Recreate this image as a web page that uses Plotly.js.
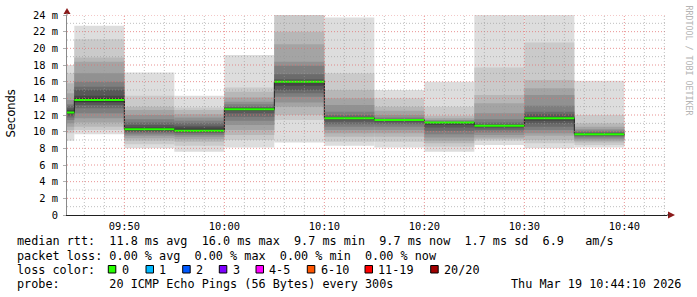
<!DOCTYPE html>
<html><head><meta charset="utf-8">
<script src="https://cdn.plot.ly/plotly-3.0.1.min.js"></script>
<style>html,body{margin:0;padding:0;background:#fff}#chart{width:697px;height:297px}</style>
</head><body><div id="chart"></div>
<script>
// ---- data (5-minute SmokePing intervals, values in ms) ----
const intervalEnd = ['2026-03-19 09:45:00','2026-03-19 09:50:00','2026-03-19 09:55:00','2026-03-19 10:00:00',
  '2026-03-19 10:05:00','2026-03-19 10:10:00','2026-03-19 10:15:00','2026-03-19 10:20:00',
  '2026-03-19 10:25:00','2026-03-19 10:30:00','2026-03-19 10:35:00','2026-03-19 10:40:00'];
// sorted ping ranks (1 = fastest, 20 = slowest) per interval
const ping01 = [8.9, 9.7, 8.0, 7.6, 8.1, 8.7, 8.3, 8.1, 7.6, 8.4, 8.0, 8.1];
const ping02 = [9.8, 10.2, 8.5, 8.3, 9.0, 11.4, 8.8, 8.8, 8.2, 8.9, 8.6, 8.4];
const ping03 = [10.2, 10.6, 8.9, 8.8, 9.6, 12.0, 9.4, 9.4, 8.6, 9.1, 9.0, 8.7];
const ping04 = [10.6, 11.1, 9.2, 9.1, 10.2, 13.0, 9.8, 9.8, 8.9, 9.3, 9.5, 8.9];
const ping05 = [11.0, 11.6, 9.5, 9.4, 10.8, 13.5, 10.2, 10.2, 9.3, 9.6, 9.8, 9.1];
const ping06 = [11.4, 12.2, 9.7, 9.6, 11.3, 14.2, 10.6, 10.6, 9.7, 9.9, 10.2, 9.3];
const ping07 = [11.7, 12.8, 9.9, 9.8, 11.8, 14.6, 10.9, 10.9, 10.1, 10.2, 10.6, 9.45];
const ping08 = [11.9, 13.2, 10.0, 9.9, 12.2, 15.0, 11.2, 11.1, 10.5, 10.4, 11.0, 9.55];
const ping09 = [12.1, 13.5, 10.1, 10.0, 12.5, 15.5, 11.45, 11.25, 10.8, 10.6, 11.3, 9.62];
const ping10 = [12.2, 13.6, 10.2, 10.05, 12.6, 15.95, 11.55, 11.35, 11.0, 10.65, 11.5, 9.68];
const ping11 = [12.4, 14.0, 10.4, 10.25, 12.75, 16.05, 11.65, 11.42, 11.1, 10.75, 11.7, 9.72];
const ping12 = [12.6, 14.3, 10.5, 10.5, 12.8, 16.1, 11.7, 11.45, 11.12, 10.8, 11.8, 9.78];
const ping13 = [12.8, 15.0, 10.8, 10.7, 12.9, 16.3, 11.8, 11.5, 11.15, 10.9, 12.1, 9.85];
const ping14 = [13.1, 15.4, 11.1, 11.0, 13.0, 16.9, 12.0, 11.55, 11.2, 11.1, 12.4, 9.95];
const ping15 = [13.3, 16.0, 11.5, 11.3, 13.3, 17.9, 12.4, 11.7, 11.3, 11.5, 13.1, 10.1];
const ping16 = [13.8, 17.0, 12.0, 11.7, 13.6, 18.4, 13.2, 12.0, 11.4, 12.2, 14.4, 10.3];
const ping17 = [14.6, 18.4, 12.6, 12.1, 14.1, 20.5, 14.0, 12.5, 11.6, 13.4, 15.2, 10.6];
const ping18 = [15.8, 18.9, 13.0, 12.6, 14.8, 22.0, 15.0, 13.0, 11.9, 14.4, 16.2, 11.0];
const ping19 = [17.0, 21.1, 14.3, 12.9, 15.3, 24.5, 17.0, 14.0, 13.0, 17.7, 20.7, 12.0];
const ping20 = [18.0, 22.7, 17.1, 14.3, 19.2, 25.0, 23.7, 15.0, 16.0, 24.2, 24.2, 16.1];
const medianMs = [12.3, 13.8, 10.3, 10.1, 12.7, 16.0, 11.6, 11.4, 11.1, 10.7, 11.6, 9.7];

const yTickVals = [0,2,4,6,8,10,12,14,16,18,20,22,24];
const yTickText = ['0','2 m','4 m','6 m','8 m','10 m','12 m','14 m','16 m','18 m','20 m','22 m','24 m'];
const xTickTimes = ['2026-03-19 09:50:00','2026-03-19 10:00:00','2026-03-19 10:10:00','2026-03-19 10:20:00','2026-03-19 10:30:00','2026-03-19 10:40:00'];
const xTickText = ['09:50','10:00','10:10','10:20','10:30','10:40'];
const xRange = ['2026-03-19 09:44:16','2026-03-19 10:44:16'];

const statsText = 'median rtt:  11.8 ms avg  16.0 ms max  9.7 ms min  9.7 ms now  1.7 ms sd  6.9   am/s';
const lossText = 'packet loss: 0.00 % avg  0.00 % max  0.00 % min  0.00 % now';
const lossColorTitle = 'loss color:';
const lossColorLabels = ['0','1','2','3','4-5','6-10','11-19','20/20'];
const lossColors = ['#26ff00','#00b8ff','#0059ff','#7e00ff','#ff00ff','#ff5500','#ff0000','#a10000'];
const probeText = 'probe:       20 ICMP Echo Pings (56 Bytes) every 300s';
const dateStamp = 'Thu Mar 19 10:44:10 2026';

// ---- helpers ----
const toMs = s => Date.parse(s.replace(' ','T')+'Z');
const STEP = 300000;
const ends = intervalEnd.map(toMs);
const starts = ends.map(e => e - STEP);
const W = 697, H = 297, L = 67, T = 15, PW = 600, PH = 200;
const px = x => (x - L) / PW;
const py = y => (T + PH - y) / PH;
const mono = '"DejaVu Sans Mono", monospace';
const keepSpaces = s => s.replace(/ /g, '\u00a0');

const pings = [ping01,ping02,ping03,ping04,ping05,ping06,ping07,ping08,ping09,ping10,
               ping11,ping12,ping13,ping14,ping15,ping16,ping17,ping18,ping19,ping20];

// ---- smoke layers ----
const traces = [];
const half = 10;
for (let i = 1; i <= half; i++) {
  const g = Math.floor(190 / half * (half - i)) + 50;
  const lo = pings[i - 1], hi = pings[20 - i];
  traces.push({
    type: 'bar', x: ends, base: lo, y: hi.map((v, k) => v - lo[k]),
    offset: -STEP, width: STEP,
    marker: {color: `rgb(${g},${g},${g})`, line: {width: 0}},
    hoverinfo: 'skip'
  });
}
// median: dark step line, then green per-interval segments
const stepX = [], stepY = [], segX = [], segY = [];
ends.forEach((e, k) => {
  stepX.push(starts[k], e); stepY.push(medianMs[k], medianMs[k]);
  segX.push(starts[k], e, null); segY.push(medianMs[k], medianMs[k], null);
});
traces.push({type:'scatter', mode:'lines', x: stepX, y: stepY, line:{color:'#202020', width:1}, hoverinfo:'skip'});
traces.push({type:'scatter', mode:'lines', x: segX, y: segY, line:{color: lossColors[0], width:2}, hoverinfo:'skip'});

// ---- grid (drawn above the smoke, like rrdtool) ----
const shapes = [];
const majorC = 'rgba(225,110,110,0.75)', minorC = 'rgba(150,150,150,0.6)';
for (let v = 1; v <= 24; v++) {
  shapes.push({type:'line', layer:'above', xref:'paper', yref:'y', x0:0, x1:1, y0:v, y1:v,
    line:{color: v % 2 ? minorC : majorC, width:1, dash:'1px,2px'}});
}
const r0 = toMs(xRange[0]), r1 = toMs(xRange[1]);
for (let t = Math.ceil(r0 / 120000) * 120000; t <= r1; t += 120000) {
  const major = (t % 600000) === 0;
  shapes.push({type:'line', layer:'above', xref:'x', yref:'paper', x0:t, x1:t, y0:0, y1:1,
    line:{color: major ? majorC : minorC, width:1, dash:'1px,2px'}});
}
// axis arrows
const arrowC = '#8b1a1a';
shapes.push({type:'path', xref:'paper', yref:'paper', layer:'above', fillcolor:arrowC, line:{width:0},
  path:`M ${px(67)} ${py(8)} L ${px(70.5)} ${py(14)} L ${px(63.5)} ${py(14)} Z`});
shapes.push({type:'path', xref:'paper', yref:'paper', layer:'above', fillcolor:arrowC, line:{width:0},
  path:`M ${px(675)} ${py(215)} L ${px(668)} ${py(211.5)} L ${px(668)} ${py(218.5)} Z`});
shapes.push({type:'line', xref:'paper', yref:'paper', layer:'above', x0:px(667), x1:px(669), y0:py(215), y1:py(215), line:{color:'#202020', width:1}});
shapes.push({type:'line', xref:'paper', yref:'paper', layer:'above', x0:px(67), x1:px(67), y0:py(13), y1:py(15), line:{color:'#888', width:1}});

// ---- text below the chart ----
const annotations = [];
const addText = (text, x, y, opts = {}) => annotations.push(Object.assign({
  text: keepSpaces(text), xref:'paper', yref:'paper', x: px(x), y: py(y), xanchor:'left', yanchor:'middle',
  showarrow:false, font:{family: mono, size:11.8, color:'#000'}, borderpad:0
}, opts));
addText(statsText, 15.5, 241);
addText(lossText, 15.5, 255.5);
addText(lossColorTitle, 15.5, 269.5);
const boxX = [108.3, 146, 182.7, 219.3, 256, 307.3, 365, 430.7];
lossColorLabels.forEach((t, k) => {
  shapes.push({type:'rect', xref:'paper', yref:'paper', x0:px(boxX[k]), x1:px(boxX[k]+7.5), y0:py(265.5), y1:py(273),
    fillcolor: lossColors[k], line:{color:'#000', width:1}});
  addText(t, boxX[k] + 12.3, 269.5);
});
addText(probeText, 15.5, 283.5);
addText(dateStamp, 682, 283.5, {xanchor:'right'});
// axis unit title and watermark
addText('Seconds', 10.5, 114, {xanchor:'center', textangle:-90, font:{family:'"DejaVu Sans", sans-serif', size:11.5, color:'#000'}});
addText('RRDTOOL / TOBI OETIKER', 688.5, 60, {xanchor:'center', textangle:90, font:{family: mono, size:8.3, color:'#b4b4b4'}});

const tickFont = {family: mono, size:10.4, color:'#000'};
const layout = {
  width: W, height: H, margin:{l:L, r:W-L-PW, t:T, b:H-T-PH, pad:0},
  paper_bgcolor:'#fff', plot_bgcolor:'#fff', barmode:'overlay', showlegend:false, hovermode:false,
  xaxis:{type:'date', range:[r0, r1], showgrid:false, zeroline:false, showline:true, linecolor:'#202020', linewidth:1,
    tickvals: xTickTimes.map(toMs), ticktext: xTickText, ticks:'', tickfont: tickFont, ticklabelstandoff:2, fixedrange:true},
  yaxis:{range:[0,24], showgrid:false, zeroline:false, showline:true, linecolor:'#8a8a8a', linewidth:1,
    tickvals: yTickVals, ticktext: yTickText, ticks:'outside', ticklen:3, tickcolor:'#b0b0b0', tickfont: tickFont,
    ticklabelstandoff:3, fixedrange:true},
  shapes, annotations
};
Plotly.newPlot('chart', traces, layout, {staticPlot:true, displayModeBar:false});
</script></body></html>
